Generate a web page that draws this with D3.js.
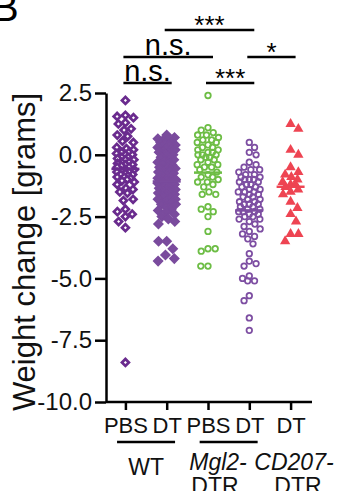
<!DOCTYPE html>
<html>
<head>
<meta charset="utf-8">
<script src="https://cdn.jsdelivr.net/npm/d3@7"></script>
<style>
  body { margin: 0; background: #fff; }
  svg { display: block; font-family: "Liberation Sans", Arial, Helvetica, sans-serif; }
</style>
</head>
<body>
<div id="chart"></div>
<script>
// groups on the x axis
var categories = ["WT PBS", "WT DT", "Mgl2 PBS", "Mgl2 DT", "CD207 DT"];
var tickLabels = ["PBS", "DT", "PBS", "DT", "DT"];

// weight change per mouse, grams
var wtPbs = [2.2, 1.6, 1.55, 1.5, 1.3, 1.25, 1.05, 1.0, 0.8, 0.75, 0.55, 0.5,
  0.3, 0.25, 0.2, 0.1, 0.1, 0.05, 0.0, 0.0, -0.1, -0.1, -0.15, -0.2, -0.2, -0.3, -0.3,
  -0.35, -0.4, -0.4, -0.45, -0.5, -0.5, -0.6, -0.6, -0.65, -0.7, -0.7, -0.75, -0.8,
  -0.8, -0.85, -0.9, -0.9, -0.95, -1.0, -1.05, -1.1, -1.2,
  -1.35, -1.4, -1.5, -1.55, -1.8, -1.85, -2.2, -2.3, -2.4, -2.5, -2.7, -2.95, -8.4];
var wtDt = [0.8, 0.7, 0.65, 0.6, 0.6, 0.5, 0.5, 0.45, 0.4, 0.4, 0.3, 0.3, 0.25, 0.2, 0.2,
  0.1, 0.1, 0.05, 0.0, 0.0, -0.1, -0.15, -0.2, -0.2, -0.3, -0.3, -0.35, -0.4, -0.5, -0.5,
  -0.55, -0.6, -0.7, -0.7, -0.75, -0.8, -0.9, -0.9, -0.95, -1.0, -1.0, -1.1, -1.1, -1.15,
  -1.2, -1.2, -1.3, -1.3, -1.35, -1.4, -1.4, -1.5, -1.5, -1.55, -1.6, -1.6, -1.7, -1.75,
  -1.8, -1.8, -1.9, -1.95, -2.0, -2.0, -2.1, -2.2, -2.25, -2.3, -2.4, -2.5, -2.6, -2.7,
  -2.8, -3.5, -3.5, -3.8, -4.05, -4.2, -4.3];
var mglPbs = [2.4, 1.1, 1.0, 0.9, 0.8, 0.8, 0.7, 0.6, 0.6, 0.5, 0.5, 0.4, 0.3, 0.3, 0.2, 0.2,
  0.1, 0.1, 0.0, 0.0, 0.0, -0.1, -0.1, -0.2, -0.2, -0.3, -0.4, -0.4, -0.5, -0.5, -0.6,
  -0.7, -0.8, -0.9, -0.9, -1.0, -1.1, -1.1, -1.2, -1.3, -1.5, -1.6, -1.6, -2.1, -2.2,
  -2.3, -2.5, -3.1, -3.8, -3.8, -3.9, -4.5, -4.5];
var mglDt = [0.5, 0.3, 0.1, 0.0, -0.3, -0.4, -0.5, -0.6, -0.6, -0.7, -0.8, -0.8, -0.9, -0.9,
  -1.0, -1.0, -1.0, -1.1, -1.1, -1.2, -1.2, -1.3, -1.3, -1.4, -1.4, -1.5, -1.5, -1.5,
  -1.6, -1.6, -1.7, -1.7, -1.8, -1.8, -1.9, -1.9, -2.0, -2.0, -2.0, -2.1, -2.1, -2.2,
  -2.2, -2.3, -2.3, -2.3, -2.4, -2.4, -2.5, -2.5, -2.6, -2.6, -2.7, -2.8, -2.9, -3.0,
  -3.1, -3.2, -3.3, -3.4, -3.6, -4.0, -4.3, -4.4, -4.5, -4.9, -5.0, -5.1, -5.1, -5.7,
  -5.9, -6.6, -7.1];
var cdDt = [1.25, 1.05, 0.2, 0.0, -0.5, -0.7, -0.8, -0.9, -1.0, -1.1, -1.2, -1.2, -1.3,
  -1.4, -1.5, -1.6, -1.9, -2.15, -2.4, -2.7, -3.2, -3.2, -3.5];

var yTicks = [2.5, 0, -2.5, -5, -7.5, -10];

// [from group, to group, label, tier]
var comparisons = [
  [0, 1, "n.s.", 0],
  [2, 3, "***", 0],
  [0, 2, "n.s.", 1],
  [3, 4, "*", 1],
  [1, 3, "***", 2]
];

var series = [
  {values: wtPbs, color: "#6a2b8e", shape: "diamond"},
  {values: wtDt, color: "#7a4b9d", shape: "diamondBig"},
  {values: mglPbs, color: "#6dbd45", shape: "circle"},
  {values: mglDt, color: "#7d4ea2", shape: "circle"},
  {values: cdDt, color: "#ee4452", shape: "triangle"}
];

var width = 339, height = 491;
var svg = d3.select("#chart").append("svg")
  .attr("width", width)
  .attr("height", height);

var x = d3.scalePoint()
  .domain(categories)
  .range([106, 310])
  .padding(0.47);

var y = d3.scaleLinear()
  .domain([-10, 2.5])
  .range([402, 93]);

// panel letter, cut off at the corner
svg.append("text")
  .attr("x", -8)
  .attr("y", 21)
  .style("font-size", "40px")
  .text("B");

// y axis
var yAxis = svg.append("g")
  .attr("transform", "translate(106,0)")
  .call(d3.axisLeft(y).tickValues(yTicks).tickSize(11).tickSizeOuter(0).tickPadding(3)
    .tickFormat(function(d) { return d.toFixed(1); }));
yAxis.selectAll("path, line").attr("stroke", "#000").attr("stroke-width", 2.5);
yAxis.selectAll("text").style("font-size", "24px").attr("fill", "#111")
  .style("font-family", "'Liberation Sans', Arial, sans-serif");

// x axis
var xAxis = svg.append("g")
  .attr("transform", "translate(0,402)")
  .call(d3.axisBottom(x).tickSize(8).tickSizeOuter(0).tickPadding(7)
    .tickFormat(function(d, i) { return tickLabels[i]; }));
xAxis.select(".domain").attr("d", "M106,0H312");
xAxis.selectAll("path, line").attr("stroke", "#000").attr("stroke-width", 2.5);
xAxis.selectAll("text").style("font-size", "22px").attr("fill", "#111")
  .style("font-family", "'Liberation Sans', Arial, sans-serif");

// axis title
svg.append("text")
  .attr("transform", "translate(35,252) rotate(-90)")
  .attr("text-anchor", "middle")
  .style("font-size", "31px")
  .attr("fill", "#111")
  .text("Weight change [grams]");

// group labels under the axis
function groupMid(a, b) { return (x(categories[a]) + x(categories[b])) / 2; }
[[0, 1], [2, 3]].forEach(function(p) {
  var m = groupMid(p[0], p[1]);
  svg.append("line")
    .attr("x1", m - 29).attr("x2", m + 29)
    .attr("y1", 442).attr("y2", 442)
    .attr("stroke", "#000").attr("stroke-width", 2.5);
});
svg.append("text")
  .attr("x", groupMid(0, 1)).attr("y", 475)
  .attr("text-anchor", "middle").style("font-size", "23px").attr("fill", "#111")
  .text("WT");
svg.append("text")
  .attr("x", 218).attr("y", 470)
  .attr("text-anchor", "middle").style("font-size", "23px").style("font-style", "italic")
  .attr("fill", "#111").text("Mgl2-");
svg.append("text")
  .attr("x", 215).attr("y", 494)
  .attr("text-anchor", "middle").style("font-size", "23px").attr("fill", "#111")
  .text("DTR");
svg.append("text")
  .attr("x", 294).attr("y", 470)
  .attr("text-anchor", "middle").style("font-size", "23px").style("font-style", "italic")
  .attr("fill", "#111").text("CD207-");
svg.append("text")
  .attr("x", 298).attr("y", 494)
  .attr("text-anchor", "middle").style("font-size", "23px").attr("fill", "#111")
  .text("DTR");

// simple beeswarm: place each point as close to the centre as it can go,
// letting points overlap once the column gets too wide
function swarm(values, r, maxW) {
  var pts = values.map(function(v) { return {v: v, y: y(v), x: 0}; })
    .sort(function(a, b) { return a.y - b.y; });
  var placed = [];
  pts.forEach(function(p, i) {
    var rr = r, best = 0;
    while (rr > 0.5) {
      var d2 = 4 * rr * rr;
      var cand = [0];
      placed.forEach(function(q) {
        var dy = p.y - q.y;
        if (dy * dy < d2) {
          var dx = Math.sqrt(d2 - dy * dy);
          cand.push(q.x - dx, q.x + dx);
        }
      });
      var ok = cand.filter(function(c) {
        return Math.abs(c) <= maxW && placed.every(function(q) {
          return (q.x - c) * (q.x - c) + (q.y - p.y) * (q.y - p.y) >= d2 - 1e-6;
        });
      });
      if (ok.length) {
        var side = i % 2 ? 1 : -1;
        ok.sort(function(a, b) { return Math.abs(a) - Math.abs(b) || side * (b - a); });
        best = ok[0];
        break;
      }
      rr *= 0.85;
    }
    p.x = best;
    placed.push(p);
  });
  return pts;
}

var symbols = {
  diamond: {path: d3.symbol().type(d3.symbolSquare).size(24)(), rot: 45, fill: "#fff", sw: 2.7, r: 4.2, w: 9},
  diamondBig: {path: d3.symbol().type(d3.symbolSquare).size(40)(), rot: 45, fill: null, sw: 1.5, r: 4.8, w: 9},
  circle: {path: d3.symbol().type(d3.symbolCircle).size(24)(), rot: 0, fill: "none", sw: 1.8, r: 3.6, w: 11},
  triangle: {path: d3.symbol().type(d3.symbolTriangle).size(46)(), rot: 0, fill: null, sw: 0, r: 4.6, w: 9}
};

series.forEach(function(s, i) {
  var sym = symbols[s.shape];
  var cx = x(categories[i]);
  var pts = swarm(s.values, sym.r, sym.w);
  var g = svg.append("g");
  g.selectAll("path")
    .data(pts)
    .enter()
    .append("path")
    .attr("d", sym.path)
    .attr("transform", function(d) {
      return "translate(" + (cx + d.x) + "," + d.y + ") rotate(" + sym.rot + ")";
    })
    .attr("fill", sym.fill === null ? s.color : sym.fill)
    .attr("stroke", sym.sw ? s.color : "none")
    .attr("stroke-width", sym.sw);
  // mean line
  var m = d3.mean(s.values);
  svg.append("line")
    .attr("x1", cx - 14).attr("x2", cx + 14)
    .attr("y1", y(m)).attr("y2", y(m))
    .attr("stroke", s.color).attr("stroke-width", 2.5);
});

// significance brackets
var tierY = [83, 57, 30];
comparisons.forEach(function(c) {
  var x1 = x(categories[c[0]]) - 2, x2 = x(categories[c[1]]) + 5;
  var ly = tierY[c[3]];
  svg.append("line")
    .attr("x1", x1).attr("x2", x2)
    .attr("y1", ly).attr("y2", ly)
    .attr("stroke", "#000").attr("stroke-width", 2.5);
  var stars = c[2].indexOf("*") > -1;
  svg.append("text")
    .attr("x", (x1 + x2) / 2)
    .attr("y", stars ? ly + 4 : ly - 2)
    .attr("text-anchor", "middle")
    .style("font-size", stars ? "26px" : "29px")
    .attr("fill", "#000")
    .text(c[2]);
});
</script>
</body>
</html>
